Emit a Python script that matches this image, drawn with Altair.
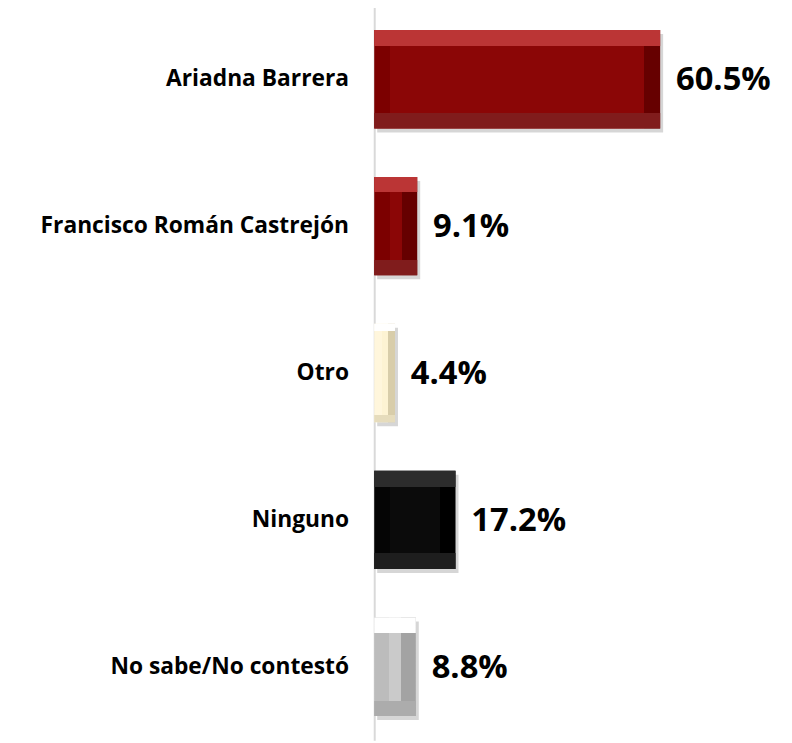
import altair as alt
import pandas as pd

categories = ["Ariadna Barrera", "Francisco Román Castrejón", "Otro", "Ninguno", "No sabe/No contestó"]
values = [60.5, 9.1, 4.4, 17.2, 8.8]
value_labels = ["60.5%", "9.1%", "4.4%", "17.2%", "8.8%"]

# bevel palettes per bar: main, left edge, right edge, top edge, bottom edge
palettes = [
    ("#8b0606", "#7c0000", "#660000", "#bb3535", "#801c1c"),
    ("#8b0606", "#7c0000", "#660000", "#bb3535", "#801c1c"),
    ("#fdf3d3", "#fff6dc", "#d8cdaa", "#ffffff", "#e6dcbc"),
    ("#0b0b0b", "#050505", "#000000", "#2c2c2c", "#1e1e1e"),
    ("#cacaca", "#bcbcbc", "#a3a3a3", "#ffffff", "#acacac"),
]

W, H = 382, 742
XMAX = 80
PAD_IN = 0.33
px_per_unit = W / XMAX
bar_h = H / 5 * (1 - PAD_IN)

df = pd.DataFrame({
    "idx": list(range(len(categories))),
    "category": categories,
    "value": values,
    "label": value_labels,
})

x_enc = alt.X("value:Q", scale=alt.Scale(domain=[0, XMAX]), axis=None)
y_enc = alt.Y(
    "category:N",
    sort=categories,
    scale=alt.Scale(paddingInner=PAD_IN, paddingOuter=PAD_IN / 2),
    axis=alt.Axis(
        title=None, ticks=False, domainColor="#d9d9d9", domainWidth=2,
        labelFontSize=23, labelFont="Open Sans", labelFontWeight="bold",
        labelColor="#000000", labelPadding=26, labelLimit=400, grid=False,
    ),
)

base = alt.Chart(df)

layers = []
# soft shadow
layers.append(
    base.mark_bar(color="#000000", opacity=0.16, xOffset=3, yOffset=4).encode(x=x_enc, y=y_enc)
)

for i, (main, left, right, top, bottom) in enumerate(palettes):
    w_px = values[i] * px_per_unit
    b = min(16.0, 0.36 * w_px)
    fx = b / w_px
    fy = b / bar_h
    hgrad = alt.Gradient(
        gradient="linear", x1=0, y1=0, x2=1, y2=0,
        stops=[
            alt.GradientStop(offset=0, color=left),
            alt.GradientStop(offset=fx, color=left),
            alt.GradientStop(offset=fx, color=main),
            alt.GradientStop(offset=1 - fx, color=main),
            alt.GradientStop(offset=1 - fx, color=right),
            alt.GradientStop(offset=1, color=right),
        ],
    )
    vgrad = alt.Gradient(
        gradient="linear", x1=0, y1=0, x2=0, y2=1,
        stops=[
            alt.GradientStop(offset=0, color=top),
            alt.GradientStop(offset=fy, color=top),
            alt.GradientStop(offset=fy, color="rgba(0,0,0,0)"),
            alt.GradientStop(offset=1 - fy, color="rgba(0,0,0,0)"),
            alt.GradientStop(offset=1 - fy, color=bottom),
            alt.GradientStop(offset=1, color=bottom),
        ],
    )
    sub = base.transform_filter(alt.datum.idx == i)
    layers.append(sub.mark_bar(fill=hgrad).encode(x=x_enc, y=y_enc))
    layers.append(sub.mark_bar(fill=vgrad).encode(x=x_enc, y=y_enc))

layers.append(
    base.mark_text(
        align="left", baseline="middle", dx=16, dy=1,
        font="Open Sans", fontSize=33, fontWeight="bold", color="#000000",
    ).encode(x=x_enc, y=y_enc, text="label:N")
)

chart = alt.layer(*layers).properties(
    width=W, height=H,
    background="#ffffff",
    autosize=alt.AutoSizeParams(type="none"),
    padding={"left": 370, "top": -6, "right": 32, "bottom": 0},
).configure_view(strokeWidth=0, stroke="transparent")

chart.save("out.html", embed_options={"renderer": "svg", "actions": False})
